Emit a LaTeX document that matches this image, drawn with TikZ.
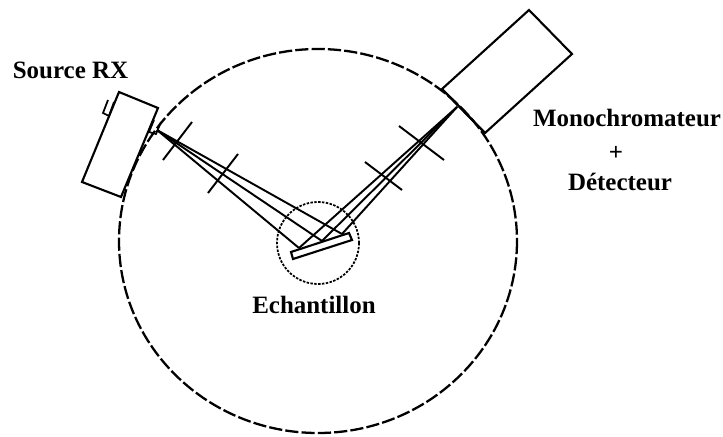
\documentclass[tikz,border=0pt]{standalone}
\usepackage{fontspec}
\setmainfont{Liberation Serif}
\tikzset{
  every picture/.style={line width=1.2pt},
  box/.style={draw=black, line join=miter},
  ray/.style={draw=black, line width=1.1pt},
  slitbar/.style={draw=black, line width=1.1pt},
  lab/.style={font=\bfseries\fontsize{14.2}{16}\selectfont, align=center},
}
\begin{document}
\begin{tikzpicture}[x=0.02cm, y=-0.02cm]
  \useasboundingbox (0,0) rectangle (723,436);
  % source
  \draw[box] (119,92) -- (158,108) -- (121,197) -- (82,182) -- cycle;
  \draw[box, line width=1pt] (108,100) -- (103,113) -- (109,116) -- (114,102);
  \draw[box, line width=1pt, fill=white] (154,120) -- (149,132) -- (156,134) -- (161,122);
  % detector
  \draw[box, fill=white] (442,89) -- (529,10) -- (572,54) -- (485,133) -- cycle;
  % circles
  \draw[dash pattern=on 7.5pt off 1.8pt, line width=1.3pt] (318,241) ellipse [x radius=199, y radius=192];
  \draw[dash pattern=on 1.4pt off 0.8pt, line width=1pt] (318,243) circle [radius=41];
  \draw[box] (442,89) -- (485,133);
  % focus points and points on the sample
  \coordinate (fs) at (157,130);
  \coordinate (fd) at (457,107);
  \coordinate (p1) at (299,248);
  \coordinate (p2) at (322,241);
  \coordinate (p3) at (342,234);
  % rays
  \foreach \p in {p1,p2,p3} {
    \draw[ray] (fs) -- (\p);
    \draw[ray] (fd) -- (\p);
  }
  % slits
  \draw[slitbar] (192,122) -- (163,160);
  \draw[slitbar] (238,154) -- (208,193);
  \draw[slitbar] (399,126) -- (444,160);
  \draw[slitbar] (365,162) -- (402,190);
  % sample
  \draw[box, fill=white] (291,252) -- (349,233) -- (352,240) -- (293,259) -- cycle;
  % labels
  \node[lab] (source) at (70.5,70) {Source RX};
  \node[lab] (mono) at (627,118) {Monochromateur};
  \node[lab] (plus) at (616,153) {+};
  \node[lab] (det) at (620,182) {Détecteur};
  \node[lab] (ech) at (314,305) {Echantillon};
\end{tikzpicture}
\end{document}
